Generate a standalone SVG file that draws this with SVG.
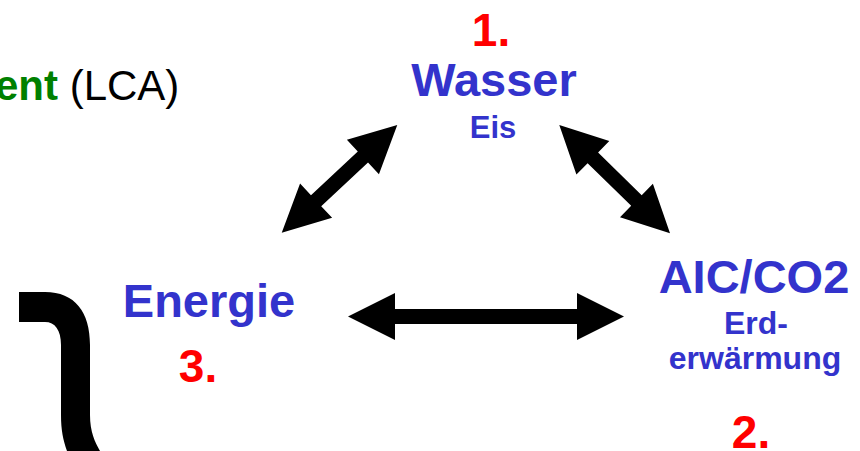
<svg xmlns="http://www.w3.org/2000/svg" width="860" height="451" viewBox="0 0 860 451">
<style>
.b{font-family:"Liberation Sans",Arial,sans-serif;font-weight:bold;text-anchor:middle}
.big{font-size:47px;fill:#3333CC}
.sm{font-size:31px;fill:#3333CC}
.sm2{font-size:32px;fill:#3333CC}
.num{font-size:46px;fill:#FF0000}
.arr{fill:#000}
</style>
<rect width="860" height="451" fill="#fff"/>
<g id="title">
<text x="-5" y="100" font-family="Liberation Sans, Arial, sans-serif" font-size="42"><tspan font-weight="bold" fill="#008000">ent</tspan><tspan fill="#000"> (LCA)</tspan></text>
</g>
<g id="brace">
<path d="M19,292 L45,292 C75,292 90,312 90,345 L90,415 C90,432 95,442 100,451 L67,451 C63,440 61,430 61,415 L61,345 C61,330 55,322 45,322 L19,322 Z" fill="#000"/>
</g>
<g id="wasser">
<text class="b num" x="491" y="46">1.</text>
<text class="b big" x="494" y="96">Wasser</text>
<text class="b sm" x="493" y="138">Eis</text>
</g>
<g id="aic">
<text class="b big" x="754" y="293">AIC/CO2</text>
<text class="b sm2" x="756" y="334">Erd-</text>
<text class="b sm2" x="755" y="369">erwärmung</text>
<text class="b num" x="751" y="448">2.</text>
</g>
<g id="energie">
<text class="b big" x="209" y="317">Energie</text>
<text class="b num" x="198" y="382">3.</text>
</g>
<g id="connectors">
<polygon class="arr" transform="translate(486,316.5)" points="-138,0 -91,-23.5 -91,-7.5 91,-7.5 91,-23.5 138,0 91,23.5 91,7.5 -91,7.5 -91,23.5"/>
<polygon class="arr" transform="translate(339.5,178.85) rotate(-43)" points="-79,0 -32,-23.5 -32,-7.5 32,-7.5 32,-23.5 79,0 32,23.5 32,7.5 -32,7.5 -32,23.5"/>
<polygon class="arr" transform="translate(614.65,179.15) rotate(44.4)" points="-77.5,0 -30.5,-23.5 -30.5,-7.5 30.5,-7.5 30.5,-23.5 77.5,0 30.5,23.5 30.5,7.5 -30.5,7.5 -30.5,23.5"/>
</g>
</svg>
